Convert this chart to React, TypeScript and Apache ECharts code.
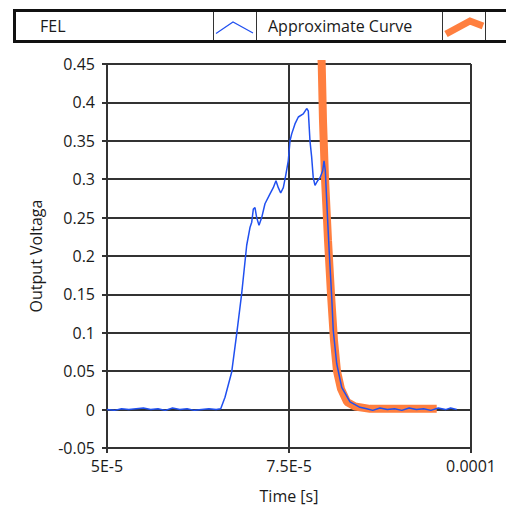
import React, { useEffect, useRef } from "react";
import * as echarts from "echarts";

// FEL measured signal (time in microseconds, voltage in V)
const felTimeUs = [
  50, 51, 52, 53, 54, 55, 56, 57, 58, 59, 60, 61, 62, 63, 64, 65, 65.62,
  66.21, 67.13, 67.82, 68.5, 69.19, 69.64, 69.88, 70.1, 70.33, 70.56, 70.88,
  71.25, 71.7, 72.39, 72.84, 73.21, 73.53, 73.86, 74.22, 74.55, 74.9, 75.14,
  75.37, 75.82, 76.28, 76.96, 77.43, 77.65, 77.88, 78.11, 78.33, 78.57, 78.94,
  79.26, 79.63, 79.81, 79.99, 80.18, 80.4, 80.54, 80.87, 81.08, 81.55, 82.24,
  83.38, 84.75, 85.67, 86.5, 87.5, 88.5, 89.5, 90.5, 91.5, 92.5, 93.5, 94.5,
  95.5, 96.5, 97.2, 98.04,
];
const felVolt = [
  0.0, -0.001, 0.001, 0.0, 0.001, 0.002, 0.0, 0.001, -0.001, 0.002, 0.0, 0.001,
  -0.001, 0.0, 0.001, 0.0, 0.001,
  0.016, 0.049, 0.099, 0.151, 0.214, 0.237, 0.244, 0.261, 0.263, 0.25, 0.24,
  0.25, 0.268, 0.281, 0.289, 0.298, 0.289, 0.282, 0.289, 0.305, 0.324, 0.35,
  0.359, 0.372, 0.381, 0.385, 0.392, 0.389, 0.35, 0.329, 0.302, 0.292, 0.298,
  0.302, 0.311, 0.324, 0.311, 0.272, 0.229, 0.203, 0.146, 0.103, 0.06, 0.029,
  0.01, 0.003, 0.001, -0.001, 0.002, 0.0, 0.001, -0.001, 0.002, 0.0, 0.001,
  -0.001, 0.002, 0.0, 0.002, 0.0,
];

// Approximate (fitted) curve
const approxTimeUs = [
  79.4, 79.49, 79.67, 79.95, 80.36, 80.77, 81.18, 81.59, 82.14, 82.97, 84.07,
  86.13, 88.5, 91.0, 93.5, 95.29,
];
const approxVolt = [
  0.47, 0.451, 0.376, 0.3, 0.22, 0.15, 0.09, 0.05, 0.027, 0.01, 0.004, 0.001,
  0.001, 0.001, 0.001, 0.001,
];

const xTickLabels: Record<number, string> = { 50: "5E-5", 75: "7.5E-5", 100: "0.0001" };

const FONT = "'Open Sans', 'Noto Sans', sans-serif";

export default function App() {
  const ref = useRef<HTMLDivElement>(null);

  useEffect(() => {
    if (!ref.current) return;
    const chart = echarts.init(ref.current, undefined, { renderer: "svg" });

    const felData = felTimeUs.map((t, i) => [t * 1e-6, felVolt[i]]);
    const approxData = approxTimeUs.map((t, i) => [t * 1e-6, approxVolt[i]]);

    const textStyle = { fontFamily: FONT, fontSize: 16, fill: "#1a1a1a" };

    chart.setOption({
      animation: false,
      backgroundColor: "#ffffff",
      grid: { left: 107, top: 64, width: 364, height: 384, containLabel: false },
      xAxis: {
        type: "value",
        min: 5e-5,
        max: 1e-4,
        interval: 2.5e-5,
        name: "Time [s]",
        nameLocation: "middle",
        nameGap: 40,
        nameTextStyle: { fontFamily: FONT, fontSize: 16, color: "#1a1a1a" },
        axisLine: { onZero: false, lineStyle: { color: "#333", width: 2 } },
        axisTick: { show: true, length: 5, lineStyle: { color: "#333", width: 2 } },
        axisLabel: {
          margin: 10,
          fontFamily: FONT,
          fontSize: 16,
          color: "#1a1a1a",
          formatter: (v: number) => xTickLabels[Math.round(v * 1e6)] ?? "",
        },
        splitLine: { show: true, lineStyle: { color: "#333", width: 2 } },
      },
      yAxis: {
        type: "value",
        min: -0.05,
        max: 0.45,
        interval: 0.05,
        name: "Output Voltaga",
        nameLocation: "middle",
        nameGap: 63,
        nameTextStyle: { fontFamily: FONT, fontSize: 16, color: "#1a1a1a" },
        axisLine: { show: true, lineStyle: { color: "#333", width: 2 } },
        axisTick: { show: true, length: 5, lineStyle: { color: "#333", width: 2 } },
        axisLabel: {
          margin: 12,
          fontFamily: FONT,
          fontSize: 16,
          color: "#1a1a1a",
        },
        splitLine: { show: true, lineStyle: { color: "#333", width: 2 } },
      },
      series: [
        {
          name: "Approximate Curve",
          type: "line",
          data: approxData,
          showSymbol: false,
          clip: true,
          z: 2,
          lineStyle: { color: "#ff7f3f", width: 8 },
        },
        {
          name: "FEL",
          type: "line",
          data: felData,
          showSymbol: false,
          clip: true,
          z: 3,
          lineStyle: { color: "#2050f0", width: 1.5 },
        },
      ],
      graphic: [
        {
          type: "rect",
          shape: { x: 14.5, y: 10.5, width: 520, height: 31 },
          style: { fill: "#fff", stroke: "#111", lineWidth: 3 },
          z: 10,
        },
        { type: "line", shape: { x1: 213.5, y1: 12, x2: 213.5, y2: 40 }, style: { stroke: "#333", lineWidth: 1 }, z: 11 },
        { type: "line", shape: { x1: 256.5, y1: 12, x2: 256.5, y2: 40 }, style: { stroke: "#333", lineWidth: 1 }, z: 11 },
        { type: "line", shape: { x1: 442.5, y1: 12, x2: 442.5, y2: 40 }, style: { stroke: "#333", lineWidth: 1 }, z: 11 },
        { type: "line", shape: { x1: 485.5, y1: 12, x2: 485.5, y2: 40 }, style: { stroke: "#333", lineWidth: 1 }, z: 11 },
        {
          type: "text",
          x: 40,
          y: 26,
          style: { ...textStyle, text: "FEL", textVerticalAlign: "middle", verticalAlign: "middle" },
          z: 11,
        },
        {
          type: "polyline",
          shape: { points: [[216, 33.5], [233, 22], [253, 33]] },
          style: { stroke: "#2050f0", lineWidth: 1.2, fill: "none" },
          z: 11,
        },
        {
          type: "text",
          x: 268,
          y: 26,
          style: { ...textStyle, text: "Approximate Curve", verticalAlign: "middle" },
          z: 11,
        },
        {
          type: "polyline",
          shape: { points: [[446, 34], [470, 21], [483, 26]] },
          style: { stroke: "#ff7f3f", lineWidth: 7, fill: "none" },
          z: 11,
        },
      ],
    });

    return () => chart.dispose();
  }, []);

  return (
    <div
      ref={ref}
      style={{ position: "fixed", left: 0, top: 0, width: 506, height: 509 }}
    />
  );
}
